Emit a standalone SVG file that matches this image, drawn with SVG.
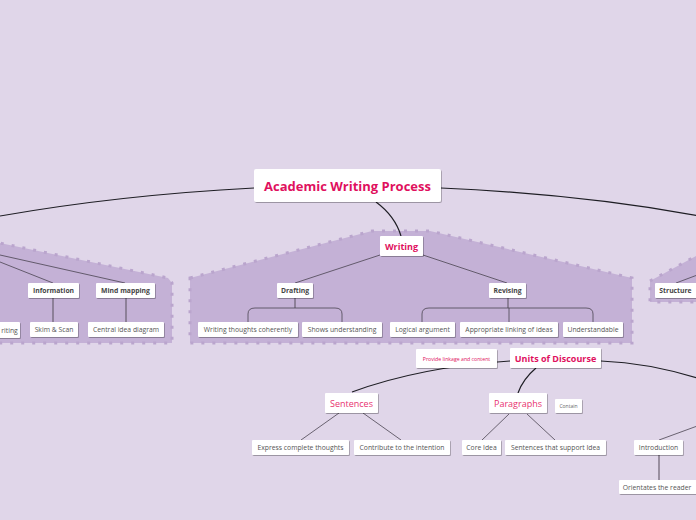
<svg xmlns="http://www.w3.org/2000/svg" width="696" height="520" viewBox="0 0 696 520">
<style>
.bg{fill:#e0d6e9}
.region{fill:#c4b1d6;stroke:#baa5cd;stroke-width:3;stroke-dasharray:3 8}
.box{fill:#fff;filter:url(#sh)}
.t{font-family:"Open Sans","Noto Sans","DejaVu Sans",sans-serif;text-anchor:middle;dominant-baseline:central}
.leaf{font-size:6.8px;fill:#555}
.sub{font-size:6.8px;fill:#444;font-weight:bold}
.title{font-size:13px;fill:#e0105e;font-weight:bold}
.main{font-size:9px;fill:#e0105e;font-weight:bold}
.pink{font-size:9px;fill:#e8326f}
.tiny{font-size:5.2px;fill:#e0105e}
.tinyg{font-size:5px;fill:#666}
.main-line{fill:none;stroke:#1e1e24;stroke-width:1.2}
.line{fill:none;stroke:#4a4450;stroke-width:0.8}
.vline{fill:none;stroke:#6a6070;stroke-width:1.2}
</style>
<defs>
<filter id="sh" x="-10%" y="-20%" width="130%" height="160%">
<feDropShadow dx="0.8" dy="1" stdDeviation="0.6" flood-color="#000" flood-opacity="0.3"/>
</filter>
</defs>
<rect class="bg" x="0" y="0" width="696" height="520"/>
<g id="regions">
<polygon class="region" points="-10,241 168,278 172,283 172,343 -10,343"/>
<polygon class="region" points="190,278 372,231 430,231 632,278 632,343 190,343"/>
<polygon class="region" points="650,281 696,256 706,256 706,302 650,302"/>
</g>
<g id="connectors">
<path class="main-line" d="M0,216 Q120,195 254,188"/>
<path class="main-line" d="M441,188 Q580,194 700,216"/>
<path class="main-line" d="M376,202 Q395,216 401,236"/>
<path class="line" d="M0,262 L53,283"/>
<path class="line" d="M0,255 L125,283"/>
<path class="vline" d="M53,298 V322"/>
<path class="vline" d="M126,298 V322"/>
<path class="line" d="M380,255 L295,283"/>
<path class="line" d="M423,255 L507,283"/>
<path class="vline" d="M295,298 V308"/>
<path class="line" d="M248,322 V314 Q248,308 255,308 H335 Q342,308 342,314 V322"/>
<path class="vline" d="M508,298 V308"/>
<path class="line" d="M422,322 V314 Q422,308 429,308 H586 Q593,308 593,314 V322"/>
<path class="line" d="M509,308 V322"/>
<path class="line" d="M676,283 L700,274"/>
<path class="main-line" d="M352,392 Q420,367 510,361"/>
<path class="main-line" d="M601,361 Q650,363 700,379"/>
<path class="main-line" d="M536,368 Q523,379 518,393"/>
<path class="line" d="M339,413 L301,440"/>
<path class="line" d="M363,413 L401,440"/>
<path class="line" d="M509,414 L482,440"/>
<path class="line" d="M527,414 L555,440"/>
<path class="line" d="M659,440 L700,425"/>
<path class="vline" d="M659,455 V480"/>
</g>
<g id="n-central"><rect class="box" x="254" y="169" width="187" height="33" rx="2"/><text class="t title" x="347.5" y="186">Academic Writing Process</text></g>
<g id="n-writing"><rect class="box" x="380" y="236" width="43" height="20" rx="1"/><text class="t main" x="401.5" y="246.5">Writing</text></g>
<g id="n-writingleft"><rect class="box" x="-20" y="322" width="40" height="16" rx="1"/><text class="t leaf" x="9.5" y="330">riting</text></g>
<g id="n-information"><rect class="box" x="28" y="283" width="51" height="15" rx="1"/><text class="t sub" x="53.5" y="290.5">Information</text></g>
<g id="n-mindmapping"><rect class="box" x="96" y="283" width="59" height="15" rx="1"/><text class="t sub" x="125.5" y="290.5">Mind mapping</text></g>
<g id="n-skim"><rect class="box" x="30" y="322" width="48" height="15" rx="1"/><text class="t leaf" x="54" y="329.5">Skim &amp; Scan</text></g>
<g id="n-central-idea"><rect class="box" x="88" y="322" width="76" height="15" rx="1"/><text class="t leaf" x="126" y="329.5">Central idea diagram</text></g>
<g id="n-drafting"><rect class="box" x="277" y="283" width="36" height="15" rx="1"/><text class="t sub" x="295" y="290.5">Drafting</text></g>
<g id="n-coherently"><rect class="box" x="198" y="322" width="100" height="15" rx="1"/><text class="t leaf" x="248" y="329.5">Writing thoughts coherently</text></g>
<g id="n-shows"><rect class="box" x="302" y="322" width="80" height="15" rx="1"/><text class="t leaf" x="342" y="329.5">Shows understanding</text></g>
<g id="n-revising"><rect class="box" x="489" y="283" width="37" height="15" rx="1"/><text class="t sub" x="507.5" y="290.5">Revising</text></g>
<g id="n-logical"><rect class="box" x="390" y="322" width="65" height="15" rx="1"/><text class="t leaf" x="422.5" y="329.5">Logical argument</text></g>
<g id="n-appropriate"><rect class="box" x="460" y="322" width="98" height="15" rx="1"/><text class="t leaf" x="509" y="329.5">Appropriate linking of ideas</text></g>
<g id="n-understandable"><rect class="box" x="563" y="322" width="60" height="15" rx="1"/><text class="t leaf" x="593" y="329.5">Understandable</text></g>
<g id="n-structure"><rect class="box" x="655" y="283" width="50" height="15" rx="1"/><text class="t sub" x="675.5" y="290.5">Structure</text></g>
<g id="n-provide"><rect class="box" x="416" y="349" width="81" height="19" rx="1"/><text class="t tiny" x="456.5" y="358.5">Provide linkage and content</text></g>
<g id="n-units"><rect class="box" x="510" y="348" width="91" height="20" rx="1"/><text class="t main" x="555.5" y="358">Units of Discourse</text></g>
<g id="n-sentences"><rect class="box" x="325" y="393" width="53" height="20" rx="1"/><text class="t pink" x="351.5" y="403.5">Sentences</text></g>
<g id="n-paragraphs"><rect class="box" x="489" y="393" width="58" height="20" rx="1"/><text class="t pink" x="518" y="403.5">Paragraphs</text></g>
<g id="n-contain"><rect class="box" x="555" y="399" width="27" height="14" rx="1"/><text class="t tinyg" x="568.5" y="406">Contain</text></g>
<g id="n-express"><rect class="box" x="252" y="440" width="97" height="15" rx="1"/><text class="t leaf" x="300.5" y="447.5">Express complete thoughts</text></g>
<g id="n-contribute"><rect class="box" x="354" y="440" width="96" height="15" rx="1"/><text class="t leaf" x="402" y="447.5">Contribute to the intention</text></g>
<g id="n-core"><rect class="box" x="462" y="440" width="39" height="15" rx="1"/><text class="t leaf" x="481.5" y="447.5">Core Idea</text></g>
<g id="n-support"><rect class="box" x="505" y="440" width="101" height="15" rx="1"/><text class="t leaf" x="555.5" y="447.5">Sentences that support Idea</text></g>
<g id="n-introduction"><rect class="box" x="634" y="440" width="49" height="15" rx="1"/><text class="t leaf" x="658.5" y="447.5">Introduction</text></g>
<g id="n-orientates"><rect class="box" x="619" y="480" width="80" height="14" rx="1"/><text class="t leaf" x="657" y="487">Orientates the reader</text></g>
</svg>
